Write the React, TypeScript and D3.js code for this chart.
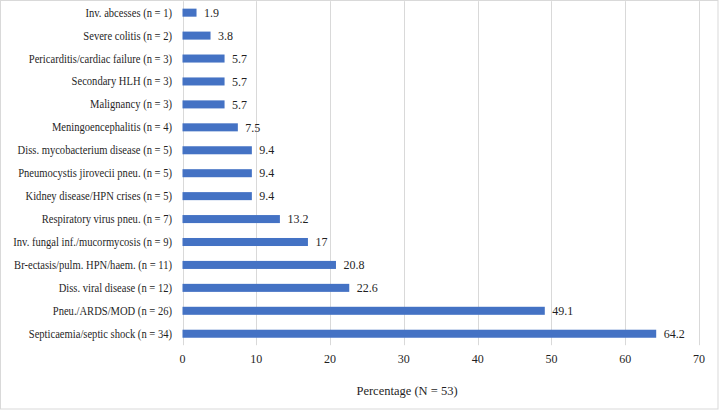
import React, { useEffect, useRef } from "react";
import * as d3 from "d3";

const categories = [
  "Inv. abcesses (n  = 1)",
  "Severe colitis (n = 2)",
  "Pericarditis/cardiac failure (n = 3)",
  "Secondary HLH (n = 3)",
  "Malignancy (n = 3)",
  "Meningoencephalitis (n = 4)",
  "Diss. mycobacterium disease (n = 5)",
  "Pneumocystis jirovecii pneu. (n = 5)",
  "Kidney disease/HPN crises (n = 5)",
  "Respiratory virus pneu. (n = 7)",
  "Inv. fungal inf./mucormycosis (n = 9)",
  "Br-ectasis/pulm. HPN/haem. (n = 11)",
  "Diss. viral disease (n = 12)",
  "Pneu./ARDS/MOD (n = 26)",
  "Septicaemia/septic shock (n = 34)",
];

const values = [1.9, 3.8, 5.7, 5.7, 5.7, 7.5, 9.4, 9.4, 9.4, 13.2, 17, 20.8, 22.6, 49.1, 64.2];

const xTicks = [0, 10, 20, 30, 40, 50, 60, 70];

const axisTitle = "Percentage (N = 53)";

const W = 719;
const H = 410;
// no serif face is installed, so a sans stack is squeezed a little to fit
const FONT = '"Liberation Serif", "Liberation Sans", Arial, sans-serif';

export default function App() {
  const ref = useRef<SVGSVGElement>(null);

  useEffect(() => {
    const svg = d3.select(ref.current);
    svg.selectAll("*").remove();

    const left = 182.5;
    const right = 699;
    const top = 1.2;
    const bottom = 345.2;

    const x = d3.scaleLinear().domain([0, 70]).range([left, right]);
    const y = d3
      .scaleBand()
      .domain(categories)
      .range([top, bottom])
      .paddingInner(0.65)
      .paddingOuter(0.325);

    // chart border
    svg
      .append("rect")
      .attr("x", 0.5)
      .attr("y", 0.5)
      .attr("width", W - 1.5)
      .attr("height", H - 1.5)
      .attr("fill", "#fff")
      .attr("stroke", "#d9d9d9")
      .attr("stroke-width", 1);

    // gridlines
    svg
      .append("g")
      .selectAll("line")
      .data(xTicks)
      .enter()
      .append("line")
      .attr("x1", (d) => Math.round(x(d)) + 0.5)
      .attr("x2", (d) => Math.round(x(d)) + 0.5)
      .attr("y1", top)
      .attr("y2", bottom)
      .attr("stroke", "#d9d9d9")
      .attr("stroke-width", 1);

    // bars
    svg
      .append("g")
      .selectAll("rect")
      .data(values)
      .enter()
      .append("rect")
      .attr("x", x(0))
      .attr("y", (_, i) => y(categories[i])!)
      .attr("width", (d) => x(d) - x(0))
      .attr("height", y.bandwidth())
      .attr("fill", "#4472c4");

    const txt = svg.append("g").style("font-family", FONT).attr("fill", "#1f1f1f");

    // value labels
    txt
      .append("g")
      .selectAll("text")
      .data(values)
      .enter()
      .append("text")
      .attr("x", (d) => x(d) + 7.5)
      .attr("y", (_, i) => y(categories[i])! + y.bandwidth() / 2)
      .attr("dy", "0.35em")
      .attr("font-size", 12)
      .text((d) => String(d));

    // category labels
    txt
      .append("g")
      .attr("transform", "translate(172,0) scale(0.92,1)")
      .selectAll("text")
      .data(categories)
      .enter()
      .append("text")
      .attr("x", 0)
      .attr("y", (d) => y(d)! + y.bandwidth() / 2)
      .attr("dy", "0.35em")
      .attr("text-anchor", "end")
      .attr("font-size", 11.5)
      .text((d) => d);

    // tick labels
    txt
      .append("g")
      .selectAll("text")
      .data(xTicks)
      .enter()
      .append("text")
      .attr("x", (d) => x(d))
      .attr("y", 359)
      .attr("dy", "0.35em")
      .attr("text-anchor", "middle")
      .attr("font-size", 12)
      .text((d) => String(d));

    txt
      .append("text")
      .attr("x", 407)
      .attr("y", 391)
      .attr("dy", "0.35em")
      .attr("text-anchor", "middle")
      .attr("font-size", 12.5)
      .text(axisTitle);
  }, []);

  return (
    <svg
      ref={ref}
      width={W}
      height={H}
      style={{ position: "absolute", left: 0, top: 0, background: "#fff" }}
    />
  );
}
